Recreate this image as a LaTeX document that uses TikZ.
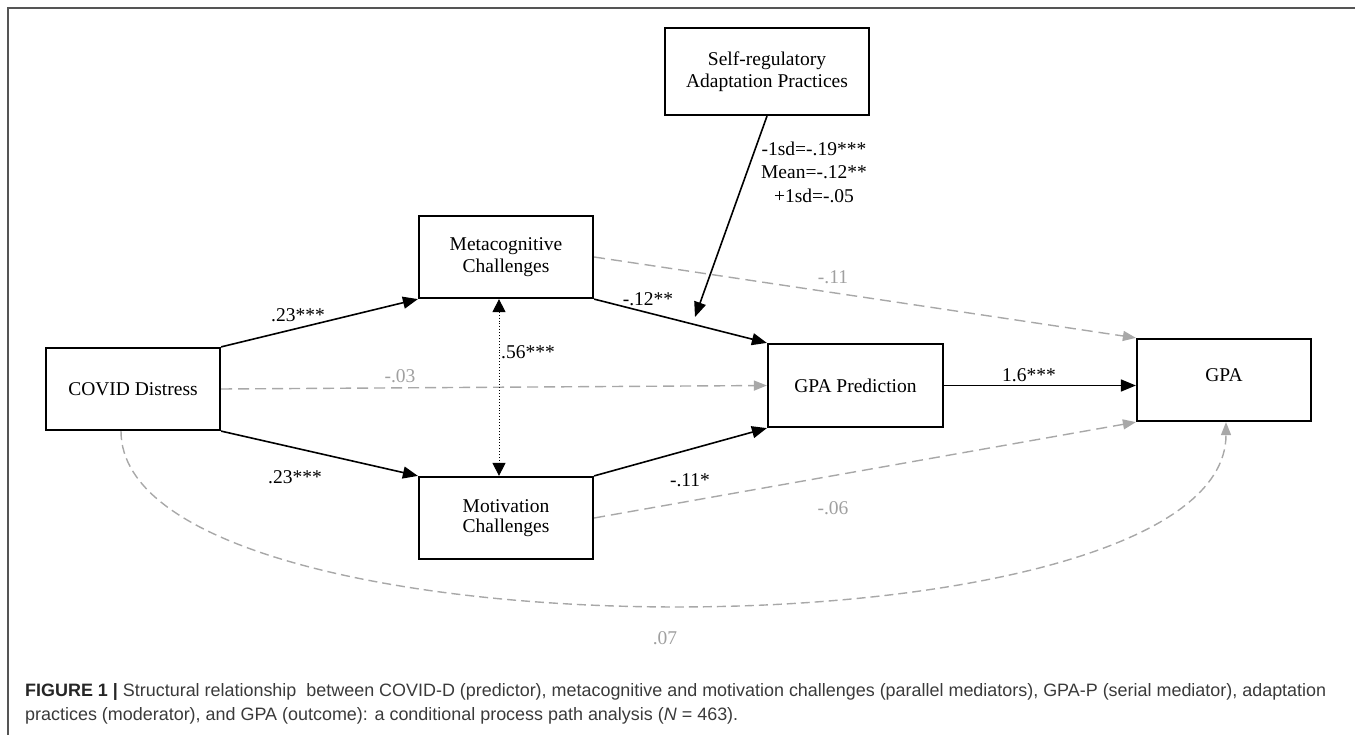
\documentclass[tikz,border=0pt]{standalone}
\usepackage{fontspec}
\setmainfont{Liberation Serif}
\newfontfamily\capfont{Liberation Sans}
\usetikzlibrary{arrows.meta}
\definecolor{dgray}{HTML}{A8A8A8}
\definecolor{lgray}{HTML}{A0A0A0}
\definecolor{frame}{HTML}{555555}
\definecolor{captxt}{HTML}{3A3A3A}
\begin{document}
\begin{tikzpicture}[x=1pt,y=-1pt,
  box/.style={draw, line width=2.2pt, minimum width=174pt, minimum height=82pt, inner sep=0pt, align=center, font=\fontsize{19.5}{22}\selectfont},
  lbl/.style={font=\fontsize{19.5}{23.5}\selectfont, inner sep=0pt, align=center},
  glbl/.style={lbl, text=lgray},
  sig/.style={line width=1.6pt, -{Triangle[length=15pt,width=12pt]}},
  nsig/.style={draw=dgray, line width=1.4pt, dash pattern=on 11pt off 6pt, -{Triangle[length=13pt,width=10pt,fill=dgray]}},
  captionline/.style={anchor=west, inner sep=0pt, font=\capfont\fontsize{16}{20}\selectfont, text=captxt}
]
\useasboundingbox (0,0) rectangle (1355,735);
\draw[frame, line width=1.5pt] (8,735) -- (8,8) -- (1355,8);

% boxes
\node[box, minimum width=204pt, minimum height=87pt] (selfreg) at (767,71.5) {Self-regulatory\\Adaptation Practices};
\node[box] (meta) at (506,257) {Metacognitive\\Challenges};
\node[box] (motiv) at (506,518) {\raisebox{7pt}{\begin{tabular}{@{}c@{}}Motivation\\[-1.5pt]Challenges\end{tabular}}};
\node[box] (covid) at (133,389) {COVID Distress};
\node[box, minimum width=175pt, minimum height=83pt] (gpap) at (855.5,385.5) {GPA Prediction};
\node[box] (gpa) at (1224,380) {\raisebox{10pt}{GPA}};

\coordinate (mod) at (695,317);

% non-significant paths
\draw[nsig] (covid.east) -- (gpap.west);
\draw[nsig] (meta.east) -- (gpa.north west);
\draw[nsig] (motiv.east) -- (gpa.south west);
\draw[nsig, dash pattern=on 9pt off 5pt] ([xshift=-12pt]covid.south) .. controls (121,665) and (1226,665) .. ([xshift=2pt]gpa.south);

% significant paths
\draw[sig] (covid.north east) -- (meta.south west);
\draw[sig] (covid.south east) -- (motiv.north west);
\draw[sig] (meta.south east) -- (gpap.north west);
\draw[sig] (motiv.north east) -- (gpap.south west);
\draw[sig] (gpap.east) -- (gpap.east -| gpa.west);
\draw[sig] (selfreg.south) -- (mod);
\draw[line width=0.9pt, dotted, {Triangle[length=13pt,width=13pt]}-{Triangle[length=13pt,width=13pt]}] ([xshift=-7pt]meta.south) -- ([xshift=-7pt]motiv.north);

% labels
\node[lbl] (l1) at (298,315) {.23***};
\node[lbl] (l2) at (295,477) {.23***};
\node[glbl] (l3) at (400,376) {-.03};
\node[lbl, anchor=west] (l4) at (501,352) {.56***};
\node[lbl] (l5) at (648,299) {-.12**};
\node[lbl] (l6) at (690,480) {-.11*};
\node[glbl] (l7) at (833,277) {-.11};
\node[glbl] (l8) at (833,508) {-.06};
\node[lbl] (l9) at (1029,375) {1.6***};
\node[glbl] (l10) at (665,638) {.07};
\node[lbl] (l11) at (814,172) {-1sd=-.19***\\Mean=-.12**\\+1sd=-.05};

% caption
\node[captionline] (cap1) at (25,692) {\resizebox{1301pt}{!}{{\bfseries\color{black!85}FIGURE 1 |} Structural relationship~ between COVID-D (predictor), metacognitive and motivation challenges (parallel mediators), GPA-P (serial mediator), adaptation}};
\node[captionline] (cap2) at (25,716) {\resizebox{713pt}{!}{practices (moderator), and GPA (outcome): a conditional process path analysis (\textit{N} = 463).}};
\end{tikzpicture}
\end{document}
